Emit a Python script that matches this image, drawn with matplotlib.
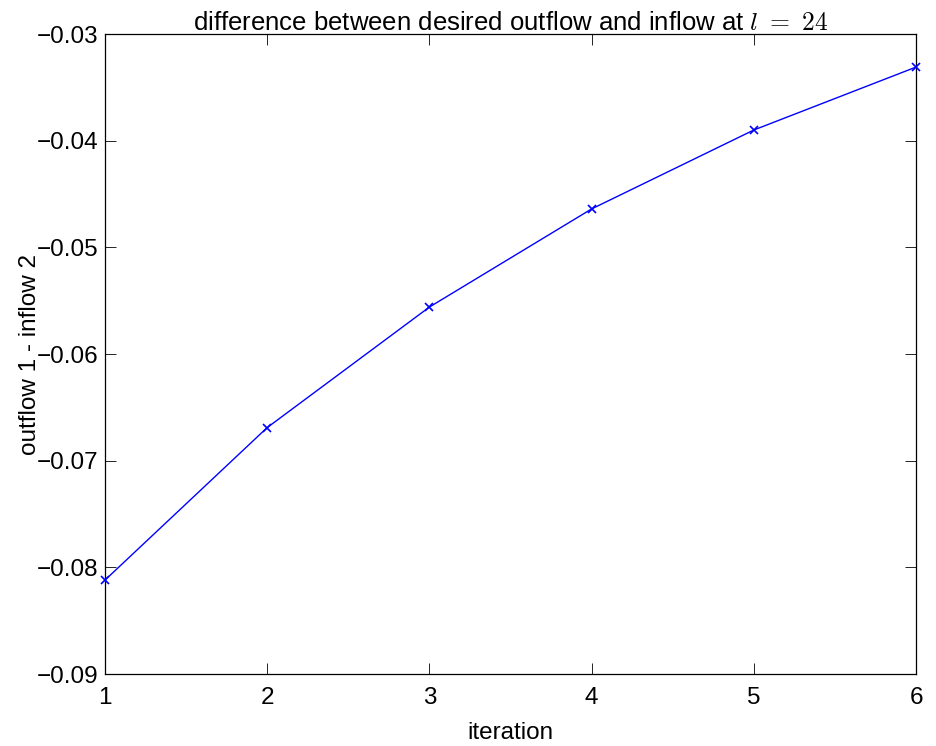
import matplotlib
matplotlib.use("Agg")
import matplotlib.pyplot as plt

iteration = [1, 2, 3, 4, 5, 6]
diff = [-0.0812, -0.0669, -0.0556, -0.0464, -0.0390, -0.0331]
yticks = [-0.09, -0.08, -0.07, -0.06, -0.05, -0.04, -0.03]

plt.rcParams["font.family"] = ["Liberation Sans", "DejaVu Sans"]
plt.rcParams["mathtext.fontset"] = "cm"

fig = plt.figure(figsize=(9.37, 7.46), dpi=100)
ax = fig.add_axes([0.112, 0.0965, 0.8656, 0.8579])
ax.plot(iteration, diff, color="blue", lw=1.0, marker="x", ms=6, mew=1.2,
        clip_on=False, zorder=3)
ax.set_xlim(1, 6)
ax.set_ylim(-0.09, -0.03)
ax.set_yticks(yticks)
ax.set_yticklabels([f"{t:.2f}".replace("-", "\u2212") for t in yticks])
ax.tick_params(direction="in", top=True, right=True, labelsize=17.5,
               length=8, width=0.6, pad=5)
ax.tick_params(axis="x", pad=9)
for s in ax.spines.values():
    s.set_linewidth(0.9)
ax.set_xlabel("iteration", fontsize=17.5, labelpad=10)
ax.set_ylabel("outflow 1 - inflow 2", fontsize=17.5, labelpad=-3)
ax.set_title("difference between desired outflow and inflow at $l\\ =\\ 24$",
             fontsize=18.5, pad=3)
fig.savefig("out.png", dpi=100)
